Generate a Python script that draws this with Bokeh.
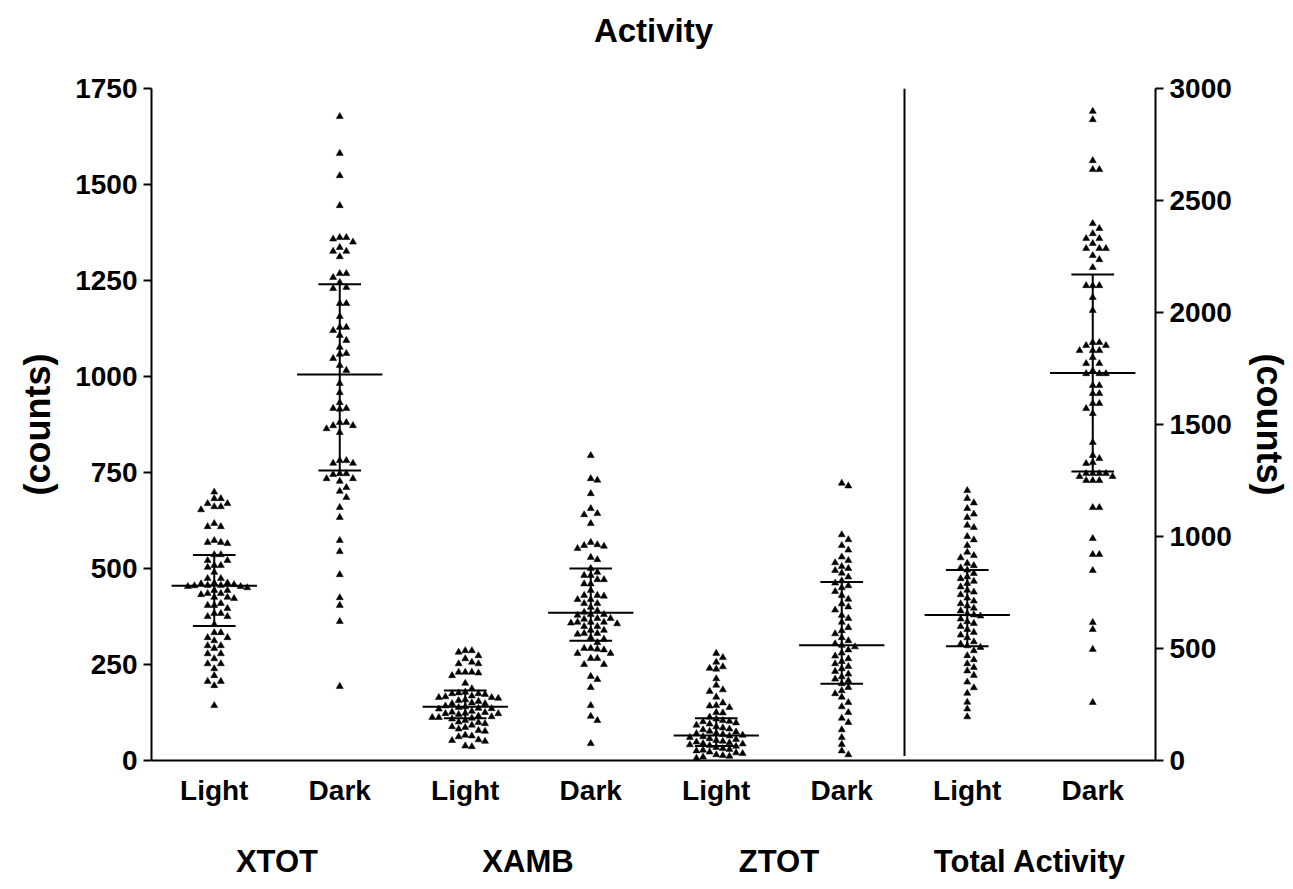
import numpy as np
from bokeh.plotting import figure
from bokeh.models import Range1d, LinearAxis, FixedTicker
from bokeh.embed import file_html
from bokeh.resources import INLINE

# ---------------- data ----------------
title_text = "Activity"
sub_labels = ["Light", "Dark", "Light", "Dark", "Light", "Dark", "Light", "Dark"]
group_labels = ["XTOT", "XAMB", "ZTOT", "Total Activity"]
left_ticks = [0, 250, 500, 750, 1000, 1250, 1500, 1750]
right_ticks = [0, 500, 1000, 1500, 2000, 2500, 3000]

xtot_light = [699, 682, 682, 669, 669, 661, 661, 653, 617, 609, 609, 573, 568, 568, 565, 536, 536,
              521, 521, 508, 508, 503, 490, 474, 474, 462, 462, 460, 458, 456, 456, 455, 453, 453,
              450, 443, 443, 435, 435, 432, 425, 425, 422, 409, 404, 404, 396, 383, 383, 375, 375,
              354, 333, 333, 320, 320, 312, 299, 299, 292, 278, 278, 265, 252, 252, 239, 221, 206,
              206, 195, 143]
xtot_dark = [1677, 1581, 1523, 1445, 1362, 1362, 1358, 1350, 1336, 1326, 1326, 1312, 1268, 1268,
             1258, 1245, 1232, 1229, 1190, 1190, 1156, 1128, 1128, 1120, 1107, 1094, 1076, 1060,
             1058, 1047, 1029, 1016, 982, 958, 932, 917, 917, 915, 880, 880, 872, 872, 864, 854,
             781, 781, 774, 774, 747, 747, 745, 734, 734, 727, 711, 701, 685, 659, 633, 573, 544,
             484, 424, 404, 362, 193]
xamb_light = [286, 286, 282, 273, 265, 256, 252, 252, 230, 230, 230, 228, 221, 201, 187, 178, 176,
              174, 174, 172, 168, 166, 164, 164, 162, 158, 156, 154, 150, 148, 148, 142, 140, 138,
              136, 135, 134, 128, 126, 125, 123, 122, 122, 120, 116, 114, 112, 112, 110, 108, 104,
              100, 99, 96, 92, 88, 86, 82, 78, 76, 66, 64, 62, 54, 52, 50, 38, 36]
xamb_dark = [794, 734, 730, 695, 656, 643, 640, 617, 568, 562, 560, 558, 552, 529, 523, 500, 490,
             482, 482, 471, 471, 460, 460, 443, 430, 430, 428, 419, 419, 409, 409, 399, 390, 386,
             380, 380, 378, 370, 370, 368, 360, 360, 360, 358, 356, 349, 349, 339, 339, 331, 331,
             329, 320, 316, 307, 292, 292, 290, 288, 279, 279, 266, 266, 250, 250, 219, 211, 190,
             143, 115, 104, 44]
ztot_light = [279, 268, 256, 244, 240, 238, 213, 196, 184, 180, 165, 150, 143, 142, 138, 125, 124,
              113, 108, 104, 102, 101, 98, 95, 92, 88, 85, 82, 80, 76, 74, 71, 70, 68, 66, 64, 62,
              60, 57, 55, 52, 50, 48, 46, 44, 43, 41, 39, 37, 34, 31, 29, 27, 25, 22, 20, 18, 15,
              13, 11, 9, 6]
ztot_dark = [722, 715, 588, 575, 560, 548, 530, 521, 515, 505, 500, 495, 488, 478, 468, 462, 455,
             450, 440, 430, 420, 408, 400, 392, 378, 370, 360, 346, 338, 330, 320, 312, 304, 300,
             296, 288, 280, 272, 265, 258, 252, 245, 239, 232, 225, 218, 212, 208, 200, 190, 182,
             174, 165, 151, 140, 125, 110, 99, 80, 60, 42, 25, 15]
total_light = [1205, 1170, 1150, 1125, 1100, 1085, 1050, 1040, 1000, 985, 960, 930, 915, 905, 880,
               870, 860, 850, 835, 820, 812, 800, 790, 775, 760, 752, 740, 725, 712, 700, 690, 680,
               668, 655, 650, 645, 632, 620, 612, 598, 585, 572, 560, 548, 530, 520, 512, 505, 490,
               468, 450, 432, 415, 400, 380, 350, 325, 300, 260, 230, 195]
total_dark = [2898, 2861, 2678, 2638, 2638, 2397, 2375, 2352, 2330, 2330, 2308, 2286, 2286, 2286,
              2254, 2236, 2201, 2120, 2120, 2120, 2067, 2009, 1866, 1866, 1853, 1853, 1830, 1830,
              1830, 1799, 1772, 1772, 1740, 1727, 1727, 1727, 1674, 1674, 1638, 1638, 1594, 1594,
              1571, 1549, 1420, 1362, 1348, 1330, 1326, 1281, 1281, 1281, 1281, 1268, 1268, 1250,
              1250, 1250, 1129, 1129, 991, 920, 920, 848, 616, 585, 496, 259]

series = [xtot_light, xtot_dark, xamb_light, xamb_dark, ztot_light, ztot_dark, total_light, total_dark]
medians = [455, 1005, 140, 385, 65, 300, 650, 1730]
q1 = [350, 755, 110, 312, 38, 200, 510, 1290]
q3 = [535, 1240, 182, 500, 110, 465, 850, 2170]
on_right = [False, False, False, False, False, False, True, True]

# ---------------- layout ----------------
W, H = 1293, 889
FL, FR, FT, FB = 151, 1155, 88, 760
FW, FH = FR - FL, FB - FT
FONT = "Liberation Sans"

p = figure(width=W, height=H, x_range=Range1d(0, 8), y_range=Range1d(0, 1750),
           output_backend="svg", toolbar_location=None,
           min_border_left=FL, min_border_right=W - FR, min_border_top=FT, min_border_bottom=H - FB)
p.extra_y_ranges = {"right": Range1d(0, 3000)}
p.grid.visible = False
p.outline_line_color = None
p.background_fill_color = "white"
p.border_fill_color = "white"

def style_axis(ax, size="28px"):
    ax.axis_line_width = 2
    ax.axis_line_color = "black"
    ax.major_tick_line_width = 2
    ax.major_tick_line_color = "black"
    ax.minor_tick_line_color = None
    ax.major_tick_in = 0
    ax.major_tick_out = 8
    ax.major_label_text_font = FONT
    ax.major_label_text_font_style = "bold"
    ax.major_label_text_font_size = size
    ax.major_label_text_color = "black"
    ax.axis_label_text_font = FONT
    ax.axis_label_text_font_style = "bold"
    ax.axis_label_text_font_size = "36px"
    ax.axis_label_text_color = "black"

ly = p.yaxis[0]
style_axis(ly)
ly.ticker = FixedTicker(ticks=left_ticks)
ly.axis_label = "(counts)"
ly.major_label_standoff = 6
ly.axis_label_standoff = 14

ry = LinearAxis(y_range_name="right")
p.add_layout(ry, "right")
style_axis(ry)
ry.ticker = FixedTicker(ticks=right_ticks)
ry.axis_label = "(counts)"
ry.major_label_standoff = 6
ry.axis_label_standoff = 14

bx = p.xaxis[0]
style_axis(bx)
bx.major_tick_out = 0
bx.ticker = FixedTicker(ticks=[i + 0.5 for i in range(8)])
bx.major_label_overrides = {i + 0.5: sub_labels[i] for i in range(8)}
bx.major_label_standoff = 14

gx = LinearAxis()
p.add_layout(gx, "below")
style_axis(gx, size="31px")
gx.axis_line_color = None
gx.major_tick_line_color = None
gx.major_tick_out = 0
gx.ticker = FixedTicker(ticks=[2 * k + 1 for k in range(4)])
gx.major_label_overrides = {2 * k + 1: group_labels[k] for k in range(4)}
gx.major_label_standoff = 35

# title as a label-only axis above the frame
tx = LinearAxis()
p.add_layout(tx, "above")
style_axis(tx, size="33px")
tx.axis_line_color = None
tx.major_tick_line_color = None
tx.major_tick_out = 0
tx.ticker = FixedTicker(ticks=[4])
tx.major_label_overrides = {4: title_text}
tx.major_label_standoff = 40

# ---------------- beeswarm ----------------
def swarm(vals, ppu, d=6.6):
    vals = np.asarray(vals, dtype=float)
    order = np.argsort(-vals, kind="stable")
    placed = []
    offs = np.zeros(len(vals))
    cands = [0.0]
    for j in range(1, 30):
        cands += [j * d, -j * d]
    for idx in order:
        y = vals[idx] * ppu
        for c in cands:
            if all((c - px) ** 2 + (y - py) ** 2 >= d * d * 0.92 for px, py in placed):
                break
        placed.append((c, y))
        offs[idx] = c
    return offs

xppu = FW / 8.0
for i, vals in enumerate(series):
    rng = "right" if on_right[i] else "default"
    ppu = FH / (3000.0 if on_right[i] else 1750.0)
    offs = swarm(vals, ppu) / xppu
    xs = [i + 0.5 + o for o in offs]
    p.scatter(xs, vals, marker="triangle", size=7, fill_color="black", line_color="black",
              line_width=0.5, y_range_name=rng)
    c = i + 0.5
    p.segment([c - 0.34], [medians[i]], [c + 0.34], [medians[i]], line_color="black",
              line_width=2, y_range_name=rng)
    p.segment([c - 0.17, c - 0.17, c], [q1[i], q3[i], q1[i]], [c + 0.17, c + 0.17, c],
              [q1[i], q3[i], q3[i]], line_color="black", line_width=2, y_range_name=rng)

# separator between left-axis and right-axis groups
sep_x = sum(1 for r in on_right if not r)
p.segment([sep_x], [12], [sep_x], [1750], line_color="black", line_width=2)

open("out.html", "w").write(file_html(p, INLINE))
